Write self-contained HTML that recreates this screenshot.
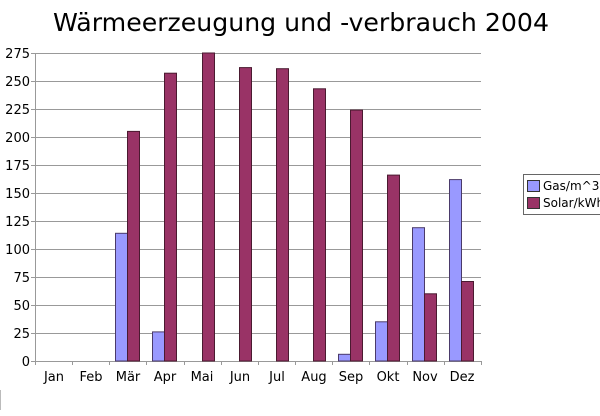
<!DOCTYPE html>
<html><head><meta charset="utf-8"><style>html,body{margin:0;padding:0;background:#fff}svg{display:block}</style></head>
<body>
<svg width="600" height="416" xmlns="http://www.w3.org/2000/svg" font-family="DejaVu Sans, Liberation Sans, sans-serif">
<text x="301" y="31" font-size="25" text-anchor="middle" textLength="496" lengthAdjust="spacingAndGlyphs" fill="#000">Wärmeerzeugung und -verbrauch 2004</text>
<g stroke="#999" stroke-width="1">
<line x1="31" y1="53.5" x2="481" y2="53.5"/><line x1="31" y1="81.5" x2="481" y2="81.5"/><line x1="31" y1="109.5" x2="481" y2="109.5"/><line x1="31" y1="137.5" x2="481" y2="137.5"/><line x1="31" y1="165.5" x2="481" y2="165.5"/><line x1="31" y1="193.5" x2="481" y2="193.5"/><line x1="31" y1="221.5" x2="481" y2="221.5"/><line x1="31" y1="249.5" x2="481" y2="249.5"/><line x1="31" y1="277.5" x2="481" y2="277.5"/><line x1="31" y1="305.5" x2="481" y2="305.5"/><line x1="31" y1="333.5" x2="481" y2="333.5"/><line x1="31" y1="361.5" x2="481" y2="361.5"/>
<line x1="35.5" y1="53" x2="35.5" y2="365"/>
<line x1="72.5" y1="361" x2="72.5" y2="365"/><line x1="109.5" y1="361" x2="109.5" y2="365"/><line x1="146.5" y1="361" x2="146.5" y2="365"/><line x1="184.5" y1="361" x2="184.5" y2="365"/><line x1="221.5" y1="361" x2="221.5" y2="365"/><line x1="258.5" y1="361" x2="258.5" y2="365"/><line x1="295.5" y1="361" x2="295.5" y2="365"/><line x1="332.5" y1="361" x2="332.5" y2="365"/><line x1="369.5" y1="361" x2="369.5" y2="365"/><line x1="407.5" y1="361" x2="407.5" y2="365"/><line x1="444.5" y1="361" x2="444.5" y2="365"/><line x1="481.5" y1="361" x2="481.5" y2="365"/>
<line x1="0.5" y1="390" x2="0.5" y2="410" stroke="#bbb"/>
</g>
<g font-size="13" fill="#000" text-anchor="end">
<text x="30" y="58">275</text><text x="30" y="86">250</text><text x="30" y="114">225</text><text x="30" y="142">200</text><text x="30" y="170">175</text><text x="30" y="198">150</text><text x="30" y="226">125</text><text x="30" y="254">100</text><text x="30" y="282">75</text><text x="30" y="310">50</text><text x="30" y="338">25</text><text x="30" y="366">0</text>
</g>
<g font-size="13" fill="#000" text-anchor="middle">
<text x="54" y="381">Jan</text><text x="91" y="381">Feb</text><text x="128" y="381">Mär</text><text x="165" y="381">Apr</text><text x="202" y="381">Mai</text><text x="240" y="381">Jun</text><text x="277" y="381">Jul</text><text x="314" y="381">Aug</text><text x="351" y="381">Sep</text><text x="388" y="381">Okt</text><text x="425" y="381">Nov</text><text x="462" y="381">Dez</text>
</g>
<g stroke="#4a3a6a" stroke-width="1" fill="#9999ff">
<rect x="115.5" y="233.3" width="12" height="127.7"/>
<rect x="152.5" y="331.9" width="12" height="29.1"/>
<rect x="338.5" y="354.3" width="12" height="6.7"/>
<rect x="375.5" y="321.8" width="12" height="39.2"/>
<rect x="412.5" y="227.7" width="12" height="133.3"/>
<rect x="449.5" y="179.6" width="12" height="181.4"/>
</g>
<g stroke="#4a1a30" stroke-width="1" fill="#993366">
<rect x="127.5" y="131.4" width="12" height="229.6"/>
<rect x="164.5" y="73.2" width="12" height="287.8"/>
<rect x="202.5" y="53" width="12" height="308"/>
<rect x="239.5" y="67.6" width="12" height="293.4"/>
<rect x="276.5" y="68.7" width="12" height="292.3"/>
<rect x="313.5" y="88.8" width="12" height="272.2"/>
<rect x="350.5" y="110.1" width="12" height="250.9"/>
<rect x="387.5" y="175.1" width="12" height="185.9"/>
<rect x="424.5" y="293.8" width="12" height="67.2"/>
<rect x="461.5" y="281.5" width="12" height="79.5"/>
</g>
<rect x="523.5" y="174.5" width="90" height="40" fill="#fff" stroke="#666"/>
<rect x="527.5" y="180.5" width="12" height="11" fill="#9999ff" stroke="#333"/>
<rect x="527.5" y="197.5" width="12" height="11" fill="#993366" stroke="#333"/>
<text x="543" y="190" font-size="12">Gas/m^3</text>
<text x="543" y="207" font-size="12">Solar/kWh</text>
</svg>
</body></html>
